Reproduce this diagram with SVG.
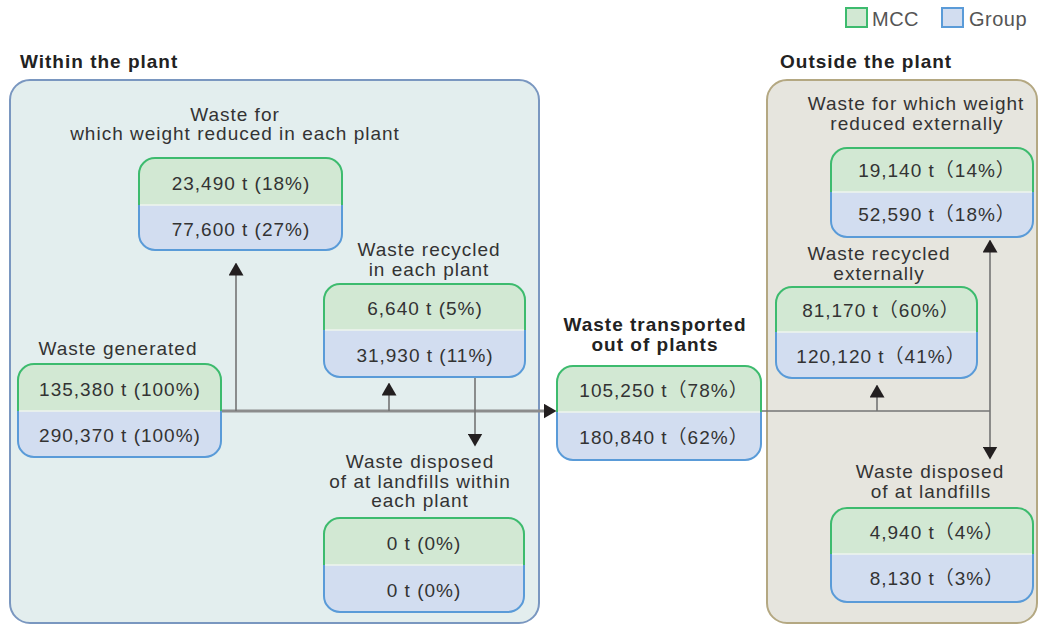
<svg xmlns="http://www.w3.org/2000/svg" width="1040" height="625" viewBox="0 0 1040 625">
  <style>
    text { font-family: "Liberation Sans", Arial, "Noto Sans CJK JP", sans-serif; font-size: 19px; fill: #333; letter-spacing: 1px; }
    .c { text-anchor: middle; }
    .ttl { font-weight: bold; fill: #222; }
    .leg { font-size: 20px; fill: #555; letter-spacing: 0.5px; }
    .mcc { fill: #d2e8d3; stroke: #3dbb6e; stroke-width: 2; }
    .grp { fill: #d2ddf0; stroke: #5a9bd8; stroke-width: 2; }
    .sep { stroke: #eef4ee; stroke-width: 1.5; }
    .main { stroke: #8c8c8c; stroke-width: 3; fill: none; }
    .thin { stroke: #747474; stroke-width: 1.6; fill: none; }
  </style>
  <defs>
    <marker id="ah" viewBox="0 0 13 15" markerWidth="13" markerHeight="15" refX="0.5" refY="7.5" orient="auto" markerUnits="userSpaceOnUse">
      <path d="M0,0 L13,7.5 L0,15 Z" fill="#231f20"/>
    </marker>
  </defs>

  <rect width="1040" height="625" fill="#ffffff"/>

  <!-- legend -->
  <g id="legend">
    <rect x="846" y="8" width="21" height="19" class="mcc"/>
    <text x="872" y="26" class="leg">MCC</text>
    <rect x="942" y="8" width="21" height="19" class="grp"/>
    <text x="969" y="26" class="leg">Group</text>
  </g>

  <!-- areas -->
  <g id="area-within">
    <text x="20" y="68" class="ttl">Within the plant</text>
    <rect x="10" y="80" width="529" height="543" rx="20" fill="#e3eeee" stroke="#7a97c0" stroke-width="2"/>
  </g>
  <g id="area-outside">
    <text x="780" y="68" class="ttl">Outside the plant</text>
    <rect x="767" y="80" width="270" height="543" rx="20" fill="#e6e5de" stroke="#b4a882" stroke-width="2"/>
  </g>

  <!-- connectors -->
  <g id="connectors">
    <line x1="221" y1="411" x2="544" y2="411" class="main" marker-end="url(#ah)"/>
    <line x1="236" y1="411" x2="236" y2="275" class="thin" marker-end="url(#ah)"/>
    <line x1="389" y1="411" x2="389" y2="395" class="thin" marker-end="url(#ah)"/>
    <line x1="475" y1="377" x2="475" y2="434" class="thin" marker-end="url(#ah)"/>
    <line x1="761" y1="411" x2="990" y2="411" class="thin"/>
    <line x1="877" y1="411" x2="877" y2="397" class="thin" marker-end="url(#ah)"/>
    <line x1="990" y1="411" x2="990" y2="252" class="thin" marker-end="url(#ah)"/>
    <line x1="990" y1="411" x2="990" y2="447" class="thin" marker-end="url(#ah)"/>
  </g>

  <!-- within the plant -->
  <g id="reduced-in-plant">
    <text x="235" y="121" class="c">Waste for</text>
    <text x="235" y="140" class="c">which weight reduced in each plant</text>
    <path d="M139,205 V174 A16,16 0 0 1 155,158 H326 A16,16 0 0 1 342,174 V205" class="mcc"/>
    <path d="M139,205 V234 A16,16 0 0 0 155,250 H326 A16,16 0 0 0 342,234 V205" class="grp"/>
    <line x1="140" y1="205" x2="341" y2="205" class="sep"/>
    <text x="241" y="190" class="c">23,490 t (18%)</text>
    <text x="241" y="236" class="c">77,600 t (27%)</text>
  </g>

  <g id="generated">
    <text x="118" y="355" class="c">Waste generated</text>
    <path d="M18,411 V380 A16,16 0 0 1 34,364 H205 A16,16 0 0 1 221,380 V411" class="mcc"/>
    <path d="M18,411 V441 A16,16 0 0 0 34,457 H205 A16,16 0 0 0 221,441 V411" class="grp"/>
    <line x1="19" y1="411" x2="220" y2="411" class="sep"/>
    <text x="120" y="396" class="c">135,380 t (100%)</text>
    <text x="120" y="442" class="c">290,370 t (100%)</text>
  </g>

  <g id="recycled-in-plant">
    <text x="429" y="256" class="c">Waste recycled</text>
    <text x="429" y="276" class="c">in each plant</text>
    <path d="M324,330 V300 A16,16 0 0 1 340,284 H509 A16,16 0 0 1 525,300 V330" class="mcc"/>
    <path d="M324,330 V361 A16,16 0 0 0 340,377 H509 A16,16 0 0 0 525,361 V330" class="grp"/>
    <line x1="325" y1="330" x2="524" y2="330" class="sep"/>
    <text x="425" y="315" class="c">6,640 t (5%)</text>
    <text x="425" y="362" class="c">31,930 t (11%)</text>
  </g>

  <g id="landfill-in-plant">
    <text x="420" y="468" class="c">Waste disposed</text>
    <text x="420" y="488" class="c">of at landfills within</text>
    <text x="420" y="507" class="c">each plant</text>
    <path d="M324,565 V534 A16,16 0 0 1 340,518 H508 A16,16 0 0 1 524,534 V565" class="mcc"/>
    <path d="M324,565 V596 A16,16 0 0 0 340,612 H508 A16,16 0 0 0 524,596 V565" class="grp"/>
    <line x1="325" y1="565" x2="523" y2="565" class="sep"/>
    <text x="424" y="550" class="c">0 t (0%)</text>
    <text x="424" y="597" class="c">0 t (0%)</text>
  </g>

  <!-- transported -->
  <g id="transported">
    <text x="655" y="331" class="c ttl">Waste transported</text>
    <text x="655" y="351" class="c ttl">out of plants</text>
    <path d="M557,412 V382 A16,16 0 0 1 573,366 H745 A16,16 0 0 1 761,382 V412" class="mcc"/>
    <path d="M557,412 V444 A16,16 0 0 0 573,460 H745 A16,16 0 0 0 761,444 V412" class="grp"/>
    <line x1="558" y1="412" x2="760" y2="412" class="sep"/>
    <text x="664" y="397" class="c">105,250 t（78%）</text>
    <text x="664" y="444" class="c">180,840 t（62%）</text>
  </g>

  <!-- outside the plant -->
  <g id="reduced-externally">
    <text x="916" y="110" class="c">Waste for which weight</text>
    <text x="917" y="130" class="c">reduced externally</text>
    <path d="M831,192 V164 A16,16 0 0 1 847,148 H1017 A16,16 0 0 1 1033,164 V192" class="mcc"/>
    <path d="M831,192 V221 A16,16 0 0 0 847,237 H1017 A16,16 0 0 0 1033,221 V192" class="grp"/>
    <line x1="832" y1="192" x2="1032" y2="192" class="sep"/>
    <text x="937" y="177" class="c">19,140 t（14%）</text>
    <text x="937" y="221" class="c">52,590 t（18%）</text>
  </g>

  <g id="recycled-externally">
    <text x="879" y="260" class="c">Waste recycled</text>
    <text x="879" y="280" class="c">externally</text>
    <path d="M776,332 V303 A16,16 0 0 1 792,287 H961 A16,16 0 0 1 977,303 V332" class="mcc"/>
    <path d="M776,332 V362 A16,16 0 0 0 792,378 H961 A16,16 0 0 0 977,362 V332" class="grp"/>
    <line x1="777" y1="332" x2="976" y2="332" class="sep"/>
    <text x="881" y="317" class="c">81,170 t（60%）</text>
    <text x="881" y="363" class="c">120,120 t（41%）</text>
  </g>

  <g id="landfill-externally">
    <text x="930" y="478" class="c">Waste disposed</text>
    <text x="931" y="498" class="c">of at landfills</text>
    <path d="M831,554 V524 A16,16 0 0 1 847,508 H1017 A16,16 0 0 1 1033,524 V554" class="mcc"/>
    <path d="M831,554 V586 A16,16 0 0 0 847,602 H1017 A16,16 0 0 0 1033,586 V554" class="grp"/>
    <line x1="832" y1="554" x2="1032" y2="554" class="sep"/>
    <text x="937" y="539" class="c">4,940 t（4%）</text>
    <text x="937" y="585" class="c">8,130 t（3%）</text>
  </g>
</svg>
